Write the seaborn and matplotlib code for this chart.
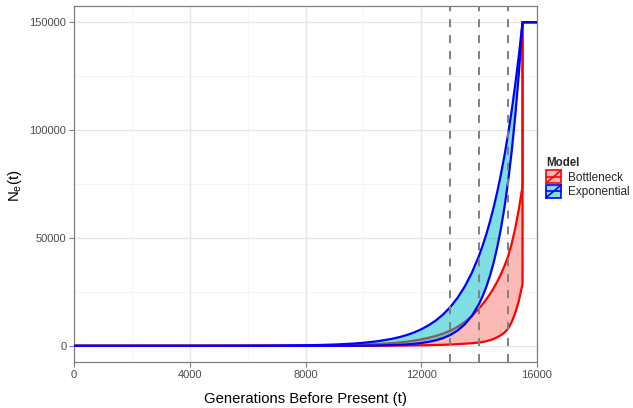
import numpy as np
import pandas as pd
import matplotlib
matplotlib.use("Agg")
import matplotlib.pyplot as plt
import seaborn as sns
from matplotlib.legend_handler import HandlerBase
from matplotlib.patches import Rectangle, Patch
from matplotlib.lines import Line2D
from matplotlib.colors import to_rgba

# ---- data ----
gens = [0, 2000, 4000, 6000, 7000, 8000, 8500, 9000, 9500, 10000, 10500, 11000,
        11250, 11500, 11750, 12000, 12250, 12500, 12750, 13000, 13250, 13500, 13750,
        14000, 14125, 14250, 14375, 14500, 14625, 14750, 14875, 15000, 15125, 15250,
        15375, 15500, 15500, 16000]
exp_upper = [0, 2, 9, 47, 109, 255, 390, 600, 914, 1400, 2140, 3270,
             4050, 5000, 6190, 7660, 9470, 11700, 14490, 17900, 22160, 27400, 33890,
             41900, 46600, 51800, 57650, 64100, 71300, 79300, 88180, 98000, 109000, 121300,
             134900, 150000, 150000, 150000]
exp_lower = [0, 0, 0, 0, 1, 6, 11, 22, 43, 85, 167, 330,
             464, 650, 914, 1290, 1805, 2540, 3560, 5000, 7030, 9890, 13890,
             19500, 23110, 27400, 32480, 38500, 45630, 54100, 64100, 76000, 90100, 106800,
             126600, 150000, 150000, 150000]
bott_upper = [0, 0, 2, 15, 37, 90, 140, 215, 335, 520, 810, 1250,
              1560, 1950, 2420, 3000, 3700, 4580, 5660, 7000, 8750, 11000, 13850,
              17400, 19400, 21600, 24000, 26700, 29700, 33100, 37000, 41500, 47300, 54600,
              63500, 74000, 150000, 150000]
bott_lower = [0, 0, 0, 1, 2, 6, 9, 15, 24, 38, 60, 95,
              120, 150, 190, 240, 300, 380, 480, 600, 780, 980, 1220,
              1540, 1800, 2150, 2600, 3200, 3950, 4900, 6100, 7900, 11000, 15300,
              21000, 28700, 150000, 150000]
models = ["Bottleneck", "Exponential"]
fill_colors = ["#F8766D", "#00BFC4"]
line_colors = ["#FF0000", "#0000FF"]
vlines = [13000, 14000, 15000]
xticks = [0, 4000, 8000, 12000, 16000]
yticks = [0, 50000, 100000, 150000]

df = pd.DataFrame({"gen": gens, "bu": bott_upper, "bl": bott_lower,
                   "eu": exp_upper, "el": exp_lower})

sns.set_theme(style="white")
plt.rcParams["font.family"] = ["Liberation Sans", "DejaVu Sans"]

fig = plt.figure(figsize=(6.33, 4.08), dpi=100)
ax = fig.add_axes([74/633, 1-362/408, (537-74)/633, (362-6)/408])

# grid
for v in [2000, 6000, 10000, 14000]:
    ax.axvline(v, color="#F4F4F4", lw=0.6, zorder=0)
for v in [25000, 75000, 125000]:
    ax.axhline(v, color="#F4F4F4", lw=0.6, zorder=0)
for v in xticks:
    ax.axvline(v, color="#E6E6E6", lw=1.0, zorder=0)
for v in yticks:
    ax.axhline(v, color="#E6E6E6", lw=1.0, zorder=0)

# Bottleneck ribbon
ax.fill_between(df["gen"], df["bl"], df["bu"], color=fill_colors[0], alpha=0.5, lw=0, zorder=1)
sns.lineplot(data=df, x="gen", y="bu", sort=False, estimator=None, color=line_colors[0], lw=1.6, ax=ax, zorder=2)
sns.lineplot(data=df, x="gen", y="bl", sort=False, estimator=None, color=line_colors[0], lw=1.6, ax=ax, zorder=2)
# Exponential ribbon
ax.fill_between(df["gen"], df["el"], df["eu"], color=fill_colors[1], alpha=0.5, lw=0, zorder=3)
sns.lineplot(data=df, x="gen", y="eu", sort=False, estimator=None, color=line_colors[1], lw=1.6, ax=ax, zorder=4)
sns.lineplot(data=df, x="gen", y="el", sort=False, estimator=None, color=line_colors[1], lw=1.6, ax=ax, zorder=4)

for v in vlines:
    ax.axvline(v, color="#7F7F7F", lw=1.4, ls=(0, (4.1, 4.1)), zorder=5)

ax.set_xlim(0, 16000)
ax.set_ylim(-7500, 157500)
ax.set_xticks(xticks)
ax.set_yticks(yticks)
ax.set_xticklabels([str(v) for v in xticks])
ax.set_yticklabels([str(v) for v in yticks])
ax.tick_params(axis="both", which="major", direction="out", length=3.5, width=0.8,
               color="#7F7F7F", labelcolor="#4D4D4D", labelsize=8.0, pad=2,
               bottom=True, left=True)
for s in ax.spines.values():
    s.set_color("#7F7F7F")
    s.set_linewidth(0.9)
ax.set_xlabel("")
ax.set_ylabel("")

fig.text(305.5/633, 1-399/408, "Generations Before Present (t)", ha="center", va="center",
         fontsize=10.7, color="black")
fig.text(15/633, 1-186/408, r"$\mathregular{N_e(t)}$", ha="center", va="center",
         rotation=90, fontsize=10.7, color="black")


class RibbonHandler(HandlerBase):
    def create_artists(self, legend, orig_handle, xdescent, ydescent, width, height, fontsize, trans):
        x0, y0 = -xdescent, -ydescent
        fc = orig_handle.get_facecolor()
        ec = orig_handle.get_edgecolor()
        rect = Rectangle((x0, y0), width, height, facecolor=fc, edgecolor=ec, lw=1.2, transform=trans)
        diag = Line2D([x0, x0 + width], [y0, y0 + height], color=ec, lw=1.2, transform=trans)
        hor = Line2D([x0, x0 + width], [y0 + height / 2] * 2, color=ec, lw=1.2, transform=trans)
        return [rect, diag, hor]


handles = [Patch(facecolor=to_rgba(fill_colors[i], 0.5), edgecolor=line_colors[i]) for i in range(2)]
leg = fig.legend(handles, models, handler_map={Patch: RibbonHandler()},
                 loc="upper left", bbox_to_anchor=(546/633, 1-157/408),
                 frameon=False, fontsize=8.5, title="Model",
                 title_fontproperties={"weight": "bold", "size": 8.3},
                 handlelength=1.3, handleheight=1.3, labelspacing=0.1,
                 handletextpad=0.6, borderpad=0, borderaxespad=0, alignment="left")

fig.savefig("out.png", dpi=100)
